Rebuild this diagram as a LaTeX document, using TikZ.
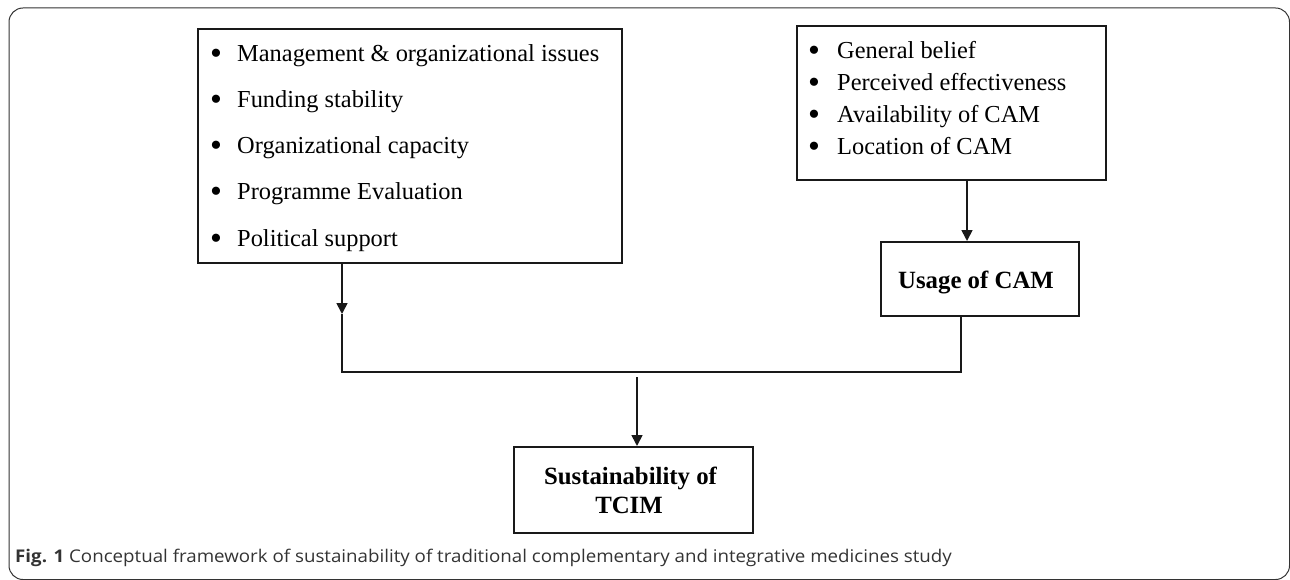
\documentclass[tikz,border=0pt]{standalone}
\usepackage{fontspec}
\setmainfont{Liberation Serif}
\newfontfamily\capfont[FakeStretch=1.07]{Open Sans}
\usetikzlibrary{arrows.meta}
\begin{document}
\begin{tikzpicture}[x=1pt,y=-1pt,
  box/.style={draw=black!90,line width=2pt,inner sep=0pt},
  itemtxt/.style={anchor=base west,inner sep=0pt,font=\fontsize{24.4}{24.4}\selectfont},
  bul/.style={anchor=base,inner sep=0pt,font=\fontsize{34}{34}\selectfont},
  conn/.style={draw=black!90,line width=1.7pt},
  arr/.style={conn,-{Triangle[length=11pt,width=11pt]}},
  boldtxt/.style={font=\fontsize{24.8}{26}\selectfont\bfseries,align=center}]
\useasboundingbox (0,0) rectangle (1290,580);
\draw[black!80,line width=1pt,rounded corners=14pt] (9,8) rectangle (1289.5,579.5);

% left box
\node[box,minimum width=424pt,minimum height=234pt] (lb) at (410,146) {};
\foreach \yy/\t [count=\i] in {62/Management \& organizational issues,108/Funding stability,154/Organizational capacity,200/Programme Evaluation,246/Political support}{
  \node[bul] (lbb\i) at (216,\yy+3) {\textbullet};
  \node[itemtxt] (lbt\i) at (237,\yy) {\t};
}
% right box
\node[box,minimum width=309pt,minimum height=154pt] (rb) at (951.5,103) {};
\foreach \yy/\t [count=\i] in {59/General belief,91/Perceived effectiveness,123/Availability of CAM,155/Location of CAM}{
  \node[bul] (rbb\i) at (814,\yy+3) {\textbullet};
  \node[itemtxt] (rbt\i) at (837,\yy) {\t};
}
% usage box
\node[box,minimum width=198pt,minimum height=74pt] (ub) at (980,279) {};
\node[boldtxt,anchor=base,inner sep=0pt] (ut) at (976,288) {Usage of CAM};
% sustainability box
\node[box,minimum width=239pt,minimum height=86pt] (sb) at (633.5,490) {};
\node[boldtxt,anchor=base,inner sep=0pt] (st1) at (630.5,484) {Sustainability of};
\node[boldtxt,anchor=base,inner sep=0pt] (st2) at (629,513) {TCIM};

\coordinate (lmid) at (342,314);
\coordinate (jl) at (342,372);
\coordinate (jr) at (961,372);
\coordinate (ds) at (637,377);

\draw[arr] (rb.south -| 967,0) -- (ub.north -| 967,0);
\draw[arr] (lb.south -| lmid) -- (lmid);
\draw[conn] (lmid) -- (jl) -- (jr) -- (ub.south -| jr);
\draw[arr] (ds) -- (sb.north -| ds);

\node[anchor=base west,inner sep=0pt,text=black!80,font=\capfont\fontsize{17.5}{17.5}\selectfont] (cap) at (15,562) {\textbf{Fig. 1} Conceptual framework of sustainability of traditional complementary and integrative medicines study};
\end{tikzpicture}
\end{document}
